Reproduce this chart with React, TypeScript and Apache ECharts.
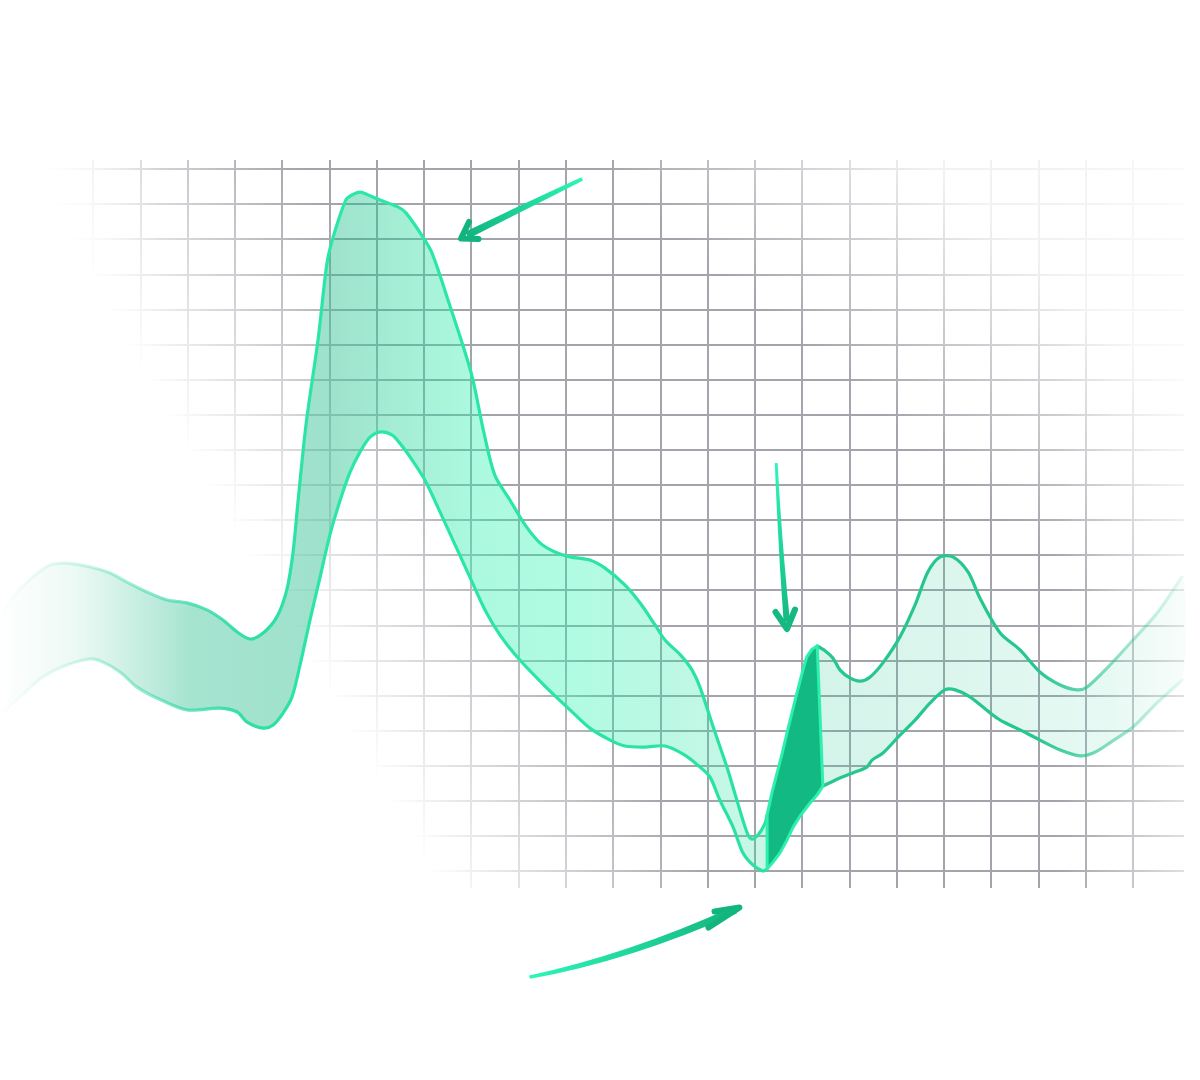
import React, { useEffect, useRef } from "react";
import * as echarts from "echarts";

// Units: x = grid columns x10 (0..220), y = grid rows x10 (0..200)
const upperLeft: number[][] = [
  [-19.7, 72.1], [-16.9, 78.1], [-12.7, 83.8], [-9.1, 87.2], [-5.5, 87.7], [-0.6, 86.6],
  [3.6, 84.9], [7.2, 82.3], [11.4, 79.5], [15.7, 77.2], [19.9, 76.4], [24.1, 74.4],
  [27.5, 71.5], [30.5, 68.1], [33.2, 66.1], [36.0, 67.8], [38.9, 72.4], [41.0, 80.1],
  [42.3, 90.6], [43.4, 105.7], [45.1, 127.6], [47.6, 151.3], [49.5, 173.2], [50.8, 180.6],
  [53.5, 191.2], [54.8, 192.6], [56.5, 193.4], [58.2, 192.6], [60.1, 191.5], [64.5, 189.2],
  [66.2, 187.5], [69.8, 180.6], [71.7, 176.1], [75.1, 162.7], [80.0, 141.9], [82.7, 124.8],
  [85.0, 112.8], [88.2, 105.7], [91.4, 98.6], [94.6, 93.4], [97.7, 90.9], [100.9, 89.5],
  [105.1, 88.6], [108.3, 86.3], [112.5, 81.5], [115.7, 76.4], [118.9, 70.1], [121.0, 65.8],
  [124.3, 61.5], [126.7, 57.3], [128.4, 52.4], [131.2, 41.0], [134.1, 29.6], [136.2, 20.2],
  [138.4, 10.8], [139.4, 9.1], [140.7, 10.3], [142.2, 13.7], [142.6, 16.0],
];
const lowerLeft: number[][] = [
  [-19.7, 44.4], [-15.4, 49.6], [-10.6, 55.3], [-5.5, 58.7], [-0.6, 60.4], [2.1, 59.5],
  [5.7, 56.7], [9.3, 52.4], [13.5, 49.3], [19.9, 45.9], [26.9, 46.4], [30.5, 45.3],
  [32.6, 42.4], [36.0, 40.7], [38.1, 41.6], [40.2, 45.0], [42.1, 49.6], [43.8, 58.7],
  [45.9, 71.5], [48.0, 83.5], [50.1, 95.7], [52.3, 105.7], [54.4, 113.7], [56.5, 119.4],
  [58.6, 123.6], [60.9, 125.1], [63.3, 124.2], [64.9, 121.9], [67.1, 117.9], [70.2, 111.4],
  [73.4, 102.3], [76.6, 92.9], [79.8, 83.5], [82.9, 74.4], [86.1, 67.2], [90.3, 60.1],
  [95.6, 52.7], [100.9, 45.9], [105.1, 40.7], [109.4, 37.3], [112.5, 35.6], [116.8, 35.3],
  [121.0, 35.6], [125.2, 33.0], [128.4, 29.6], [130.5, 26.8], [132.6, 20.2], [135.4, 12.5],
  [137.5, 5.1], [139.6, 1.7], [141.7, 0], [142.6, 0.6],
];
const upperMid: number[][] = [
  [142.6, 16.0], [143.6, 22.2], [144.7, 27.9], [145.8, 33.6], [146.8, 39.3], [147.9, 45.3],
  [148.9, 50.7], [150.0, 56.4], [151.0, 61.0], [152.1, 63.2], [153.2, 64.1],
];
const lowerMid: number[][] = [
  [142.6, 0.6], [143.9, 2.6], [145.3, 5.1], [146.8, 8.8], [148.1, 12.5], [149.6, 15.7],
  [151.7, 19.4], [153.2, 21.7], [154.4, 24.2],
];
const upperRight: number[][] = [
  [153.2, 64.1], [154.9, 62.7], [156.5, 60.7], [158.0, 57.3], [160.1, 55.0], [162.3, 54.1],
  [164.4, 55.3], [167.1, 59.3], [170.7, 66.7], [173.9, 75.8], [176.6, 85.2], [179.2, 89.5],
  [181.9, 89.5], [185.1, 85.2], [187.6, 77.8], [191.9, 67.8], [196.1, 63.0], [200.3, 56.7],
  [204.6, 53.0], [208.2, 51.6], [210.3, 52.4], [214.5, 57.8], [220.0, 65.8], [225.1, 73.5],
  [230.4, 83.8],
];
const lowerRight: number[][] = [
  [154.4, 24.2], [158.0, 26.5], [161.2, 28.2], [163.7, 29.6], [164.8, 31.6], [167.1, 33.6],
  [170.7, 38.7], [173.9, 43.0], [177.1, 47.9], [180.2, 51.6], [182.4, 51.6], [185.5, 49.6],
  [189.8, 45.0], [191.9, 43.0], [196.1, 40.2], [200.3, 37.3], [204.6, 34.5], [208.8, 32.8],
  [211.6, 33.6], [215.1, 36.5], [220.0, 41.0], [225.1, 47.9], [230.4, 54.4],
];

const X_MIN = 0, X_MAX = 220, Y_MIN = 0, Y_MAX = 200, STEP = 10;
const GRID_COLOR = "#a4a4ac";

// decorative hand-drawn arrows
const ARROW_TOP = "M581.4,177.2 Q526,202.5 465.2,231.8 L468.8,238.4 Q527,209 583,180.4 Z";
const ARROW_MID = "M774.8,463 Q778,545 783.6,622 L790,621.5 Q782,545 777.6,463 Z";
const ARROW_BOT = "M529,975.6 Q628,954.4 733.8,906.6 L737,913.2 Q630,960.8 530,978.8 Z";
echarts.graphic.registerShape("arrowTop", echarts.graphic.extendPath(ARROW_TOP, {}));
echarts.graphic.registerShape("arrowMid", echarts.graphic.extendPath(ARROW_MID, {}));
echarts.graphic.registerShape("arrowBot", echarts.graphic.extendPath(ARROW_BOT, {}));

const lg = (x1: number, y1: number, x2: number, y2: number, stops: any[]) =>
  new echarts.graphic.LinearGradient(x1, y1, x2, y2, stops, true);

const hiddenAxis = (gridIndex: number, extra: any = {}) => ({
  gridIndex,
  type: "value",
  axisLine: { show: false },
  axisTick: { show: false },
  axisLabel: { show: false },
  splitLine: { show: false },
  ...extra,
});

export default function App() {
  const ref = useRef<HTMLDivElement>(null);
  useEffect(() => {
    document.body.style.margin = "0";
    const chart = echarts.init(ref.current!, null, { renderer: "svg" });
    const splitOn = { show: true, lineStyle: { color: GRID_COLOR, width: 2 } };

    const white = (a: number) => `rgba(255,255,255,${a})`;
    const full = { x: 0, y: 140, width: 1200, height: 780 };
    const overlays = [
      // bottom-left diagonal fade
      { type: "rect", z: 1, silent: true, shape: full,
        style: { fill: lg(553, 605, 345, 725, [{ offset: 0, color: white(0) }, { offset: 0.5, color: white(0.5) }, { offset: 1, color: white(1) }]) } },
      // top-right diagonal fade
      { type: "rect", z: 1, silent: true, shape: full,
        style: { fill: lg(832, 370, 977, 205, [{ offset: 0, color: white(0) }, { offset: 1, color: white(0.86) }]) } },
      // left fade
      { type: "rect", z: 1, silent: true, shape: full,
        style: { fill: lg(30, 0, 160, 0, [{ offset: 0, color: white(1) }, { offset: 1, color: white(0) }]) } },
      // right fade
      { type: "rect", z: 1, silent: true, shape: full,
        style: { fill: lg(1060, 0, 1184, 0, [{ offset: 0, color: white(0) }, { offset: 1, color: white(0.65) }]) } },
    ];

    const headStyle = (c: string) => ({ stroke: c, lineWidth: 6, lineCap: "round", lineJoin: "round", fill: null });
    const arrows = [
      { type: "arrowTop", z: 10, x: 0, y: 0, silent: true,
        style: { fill: lg(582, 178, 466, 235, [{ offset: 0, color: "#2cf6b8" }, { offset: 1, color: "#12b47e" }]) } },
      { type: "polyline", z: 10, silent: true, shape: { points: [[469, 222], [461, 238.5], [478.5, 239]] }, style: headStyle("#12b47e") },
      { type: "arrowMid", z: 10, x: 0, y: 0, silent: true,
        style: { fill: lg(776, 463, 787, 625, [{ offset: 0, color: "#2cf6b8" }, { offset: 1, color: "#14b881" }]) } },
      { type: "polyline", z: 10, silent: true, shape: { points: [[775.5, 612], [787, 629], [795, 609.5]] }, style: headStyle("#14b881") },
      { type: "arrowBot", z: 10, x: 0, y: 0, silent: true,
        style: { fill: lg(529, 977, 736, 910, [{ offset: 0, color: "#2cf6b8" }, { offset: 1, color: "#13b57f" }]) } },
      { type: "polyline", z: 10, silent: true, shape: { points: [[714.5, 911.5], [739.5, 907.5], [708.5, 927.5]] }, style: headStyle("#13b57f") },
    ];

    const renderItem = (_params: any, api: any) => {
      const c = (arr: number[][]) => arr.map((p) => api.coord(p));
      const uL = c(upperLeft), lL = c(lowerLeft);
      const uM = c(upperMid), lM = c(lowerMid);
      const uR = c(upperRight), lR = c(lowerRight);
      const x0 = uL[0][0], xA = uL[uL.length - 1][0];
      const xB = uR[0][0], xE = uR[uR.length - 1][0];
      const rev = (a: number[][]) => a.slice().reverse();
      const SM = 0.3;

      const fill1 = lg(x0, 0, xA, 0, [
        { offset: 0, color: "rgba(20,180,130,0)" },
        { offset: 0.1, color: "rgba(20,180,130,0.08)" },
        { offset: 0.25, color: "rgba(13,181,127,0.37)" },
        { offset: 0.43, color: "rgba(13,181,127,0.4)" },
        { offset: 0.62, color: "rgba(30,240,170,0.37)" },
        { offset: 0.75, color: "rgba(30,245,170,0.35)" },
        { offset: 0.9, color: "rgba(35,230,165,0.29)" },
        { offset: 1, color: "rgba(40,220,160,0.25)" },
      ]);
      const line1 = lg(x0, 0, xA, 0, [
        { offset: 0, color: "rgba(50,215,165,0)" },
        { offset: 0.08, color: "rgba(50,215,165,0.15)" },
        { offset: 0.2, color: "rgba(50,215,165,0.55)" },
        { offset: 0.33, color: "rgba(45,222,165,1)" },
        { offset: 0.45, color: "#2be8a7" },
        { offset: 1, color: "#29e2a2" },
      ]);
      const fill3 = lg(xB, 0, xE, 0, [
        { offset: 0, color: "rgba(40,200,150,0.2)" },
        { offset: 0.5, color: "rgba(40,200,150,0.15)" },
        { offset: 0.8, color: "rgba(40,200,150,0.11)" },
        { offset: 1, color: "rgba(40,200,150,0.04)" },
      ]);
      const line3 = lg(xB, 0, xE, 0, [
        { offset: 0, color: "rgba(38,198,143,1)" },
        { offset: 0.6, color: "rgba(38,198,143,1)" },
        { offset: 0.8, color: "rgba(38,198,143,0.55)" },
        { offset: 1, color: "rgba(38,198,143,0.08)" },
      ]);
      const lineStyle = (stroke: any) => ({ stroke, lineWidth: 3.2, fill: "none", lineJoin: "round", lineCap: "round" });

      return {
        type: "group",
        children: [
          { type: "polygon", shape: { points: [...uL, ...rev(lL)], smooth: SM }, style: { fill: fill1 } },
          { type: "polygon", shape: { points: [...uR, ...rev(lR)], smooth: SM }, style: { fill: fill3 } },
          { type: "polyline", shape: { points: uL, smooth: SM }, style: lineStyle(line1) },
          { type: "polyline", shape: { points: lL, smooth: SM }, style: lineStyle(line1) },
          { type: "polyline", shape: { points: uR, smooth: SM }, style: lineStyle(line3) },
          { type: "polyline", shape: { points: lR, smooth: SM }, style: lineStyle(line3) },
          { type: "polygon", shape: { points: [...uM, ...rev(lM)] },
            style: { fill: "#13b982", stroke: "#2df0ae", lineWidth: 3, lineJoin: "round" } },
        ],
      };
    };

    const option: any = {
      animation: false,
      backgroundColor: "#ffffff",
      grid: [
        { left: 93, top: 160, width: 1040, height: 728 },
        { left: 0, top: 169, width: 1184, height: 702 },
        { left: 93, top: 169, width: 1040, height: 702 },
      ],
      xAxis: [
        hiddenAxis(0, { min: X_MIN, max: X_MAX, interval: STEP, splitLine: splitOn }),
        hiddenAxis(1, { min: 0, max: 1 }),
        hiddenAxis(2, { min: X_MIN, max: X_MAX, interval: STEP }),
      ],
      yAxis: [
        hiddenAxis(0, { min: 0, max: 1 }),
        hiddenAxis(1, { min: Y_MIN, max: Y_MAX, interval: STEP, splitLine: splitOn }),
        hiddenAxis(2, { min: Y_MIN, max: Y_MAX, interval: STEP }),
      ],
      graphic: { elements: [...overlays, ...arrows] },
      series: [
        {
          type: "custom",
          xAxisIndex: 2,
          yAxisIndex: 2,
          z: 2,
          silent: true,
          clip: false,
          data: [[X_MIN, Y_MIN]],
          renderItem,
        },
      ],
    };
    chart.setOption(option);
    return () => chart.dispose();
  }, []);
  return <div ref={ref} style={{ width: 1200, height: 1080 }} />;
}
